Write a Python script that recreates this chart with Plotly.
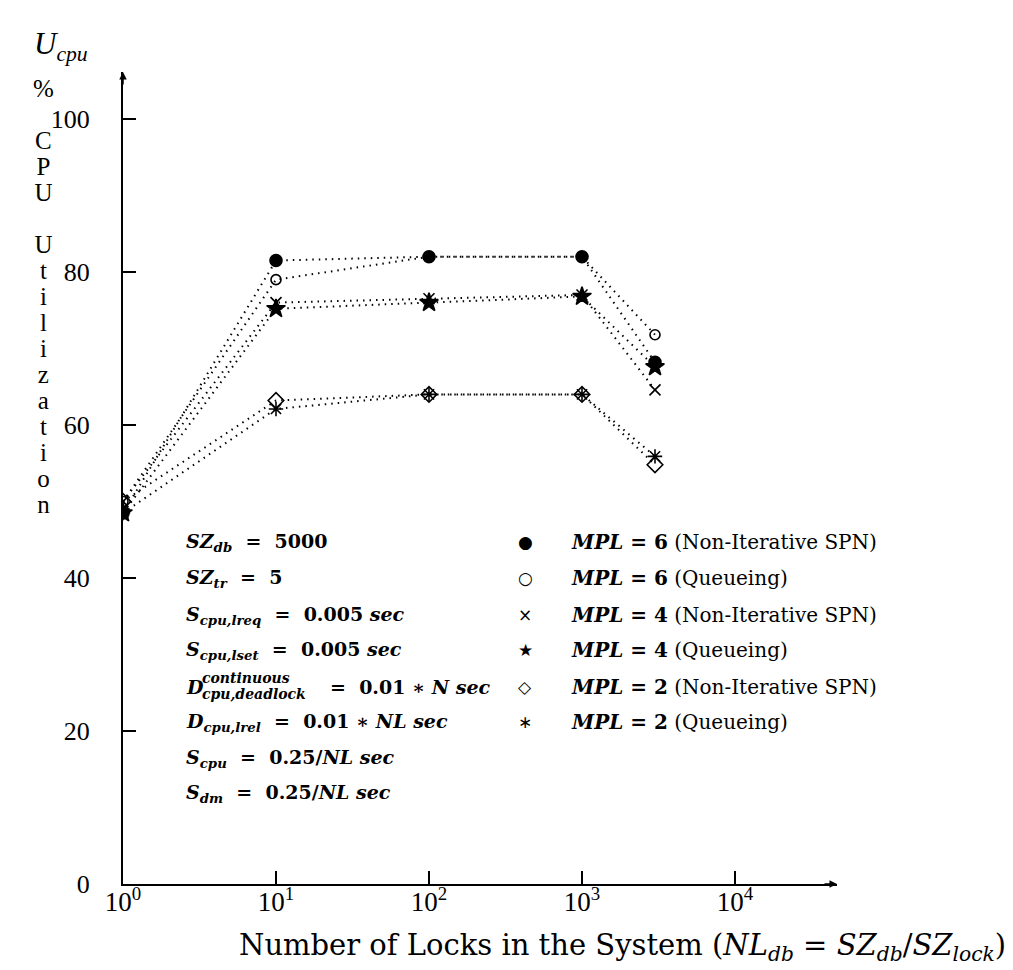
import plotly.graph_objects as go

# ---- data ----
nl_db = [1, 10, 100, 1000, 3000]
mpl6_nonit = [48.5, 81.5, 82.0, 82.0, 68.2]
mpl6_queue = [50.0, 79.0, 82.0, 82.0, 71.8]
mpl4_nonit = [50.0, 76.0, 76.5, 77.0, 64.6]
mpl4_queue = [48.5, 75.2, 76.0, 76.8, 67.6]
mpl2_nonit = [50.0, 63.2, 64.0, 64.0, 54.8]
mpl2_queue = [48.5, 62.1, 64.0, 64.0, 55.9]

series_names = ["MPL = 6 (Non-Iterative SPN)", "MPL = 6 (Queueing)",
                "MPL = 4 (Non-Iterative SPN)", "MPL = 4 (Queueing)",
                "MPL = 2 (Non-Iterative SPN)", "MPL = 2 (Queueing)"]
series_vals = [mpl6_nonit, mpl6_queue, mpl4_nonit, mpl4_queue, mpl2_nonit, mpl2_queue]
series_mpl = ["6", "6", "4", "4", "2", "2"]
series_kind = ["(Non-Iterative SPN)", "(Queueing)", "(Non-Iterative SPN)",
               "(Queueing)", "(Non-Iterative SPN)", "(Queueing)"]
symbols = ["circle", "circle-open", "x-thin-open", "star", "diamond-open", "asterisk-open"]
msizes = [12, 10, 11, 14, 12, 12]
legend_glyphs = ["●", "○", "×", "★", "◇", "∗"]

x_tickvals = [1, 10, 100, 1000, 10000]
x_ticktext = ["10<sup>0</sup>", "10<sup>1</sup>", "10<sup>2</sup>", "10<sup>3</sup>", "10<sup>4</sup>"]
y_tickvals = [0, 20, 40, 60, 80, 100]
y_title_lines = ["%", "", "C", "P", "U", "", "U", "t", "i", "l", "i", "z", "a", "t", "i", "o", "n"]

# ---- layout geometry (page pixels); the page body has an 8px margin ----
OFF = 8
L, R, T, B = 123, 837, 72, 884
PW, PH = R - L, B - T
W, H = 1013 - OFF, 970 - OFF


def px(x):
    return (x - L) / PW


def py(y):
    return (B - y) / PH


SERIF = "Liberation Serif"
WIDE = "DejaVu Serif"
fig = go.Figure()

for name, vals, sym, ms in zip(series_names, series_vals, symbols, msizes):
    fig.add_trace(go.Scatter(
        x=nl_db, y=vals, name=name, mode="lines+markers",
        line=dict(color="black", width=2, dash="1.5px,5px"),
        marker=dict(symbol=sym, size=ms, color="black",
                    line=dict(color="black", width=1.6)),
        showlegend=False,
    ))

anns = []


def ann(text, x, y, size=18, xanchor="left", yanchor="middle", family=SERIF, color="black"):
    anns.append(dict(text=text, x=px(x), y=py(y), xref="paper", yref="paper",
                     xanchor=xanchor, yanchor=yanchor, showarrow=False,
                     font=dict(family=family, size=size, color=color)))


# top-left axis symbol
ann("<i>U</i><sub><i>cpu</i></sub>", 32, 46, size=31)

# vertical y title, stacked letters (larger glyphs, tight line spacing)
big = ['<span style="font-size:25px">' + c + '</span>' if c else "" for c in y_title_lines]
ann("<br>".join(big), 43, 73, size=20, xanchor="center", yanchor="top", family=SERIF)

# x title
ann("Number of Locks in the System (<i>NL</i><sub><i>db</i></sub> = <i>SZ</i><sub><i>db</i></sub>/<i>SZ</i><sub><i>lock</i></sub>)",
    1008, 947, size=29, xanchor="right", family=WIDE)

# parameter block
pline = [542, 578, 615, 650, 687, 722, 758, 793]
px0 = 184
S = "&nbsp;"
PS = 19
ann("<b><i>SZ</i><sub><i>db</i></sub>" + S * 2 + "=" + S * 2 + "5000</b>", px0, pline[0], size=PS, family=WIDE)
ann("<b><i>SZ</i><sub><i>tr</i></sub>" + S * 2 + "=" + S * 2 + "5</b>", px0, pline[1], size=PS, family=WIDE)
ann("<b><i>S</i><sub><i>cpu,lreq</i></sub>" + S * 2 + "=" + S * 2 + "0.005 <i>sec</i></b>", px0, pline[2], size=PS, family=WIDE)
ann("<b><i>S</i><sub><i>cpu,lset</i></sub>" + S * 2 + "=" + S * 2 + "0.005 <i>sec</i></b>", px0, pline[3], size=PS, family=WIDE)
ann("<b><i>D</i></b>", px0, pline[4], size=PS, family=WIDE)
ann("<b><i>continuous</i></b>", px0 + 16, pline[4] - 9, size=14, family=WIDE)
ann("<b><i>cpu,deadlock</i></b>", px0 + 16, pline[4] + 7, size=14, family=WIDE)
ann("<b>=" + S * 2 + "0.01 ∗ <i>N</i> <i>sec</i></b>", 328, pline[4], size=PS, family=WIDE)
ann("<b><i>D</i><sub><i>cpu,lrel</i></sub>" + S * 2 + "=" + S * 2 + "0.01 ∗ <i>NL</i> <i>sec</i></b>", px0, pline[5], size=PS, family=WIDE)
ann("<b><i>S</i><sub><i>cpu</i></sub>" + S * 2 + "=" + S * 2 + "0.25/<i>NL</i> <i>sec</i></b>", px0, pline[6], size=PS, family=WIDE)
ann("<b><i>S</i><sub><i>dm</i></sub>" + S * 2 + "=" + S * 2 + "0.25/<i>NL</i> <i>sec</i></b>", px0, pline[7], size=PS, family=WIDE)

# legend block
for i, (g, m, k) in enumerate(zip(legend_glyphs, series_mpl, series_kind)):
    ann(g, 525, pline[i], size=17, xanchor="center", family="DejaVu Sans")
    ann("<b><i>MPL</i> = " + m + "</b> " + k, 569, pline[i], size=20, family=WIDE)

# axis arrows
anns.append(dict(x=1, y=0, xref="paper", yref="paper", ax=-14, ay=0, text="",
                 showarrow=True, arrowhead=2, arrowsize=1, arrowwidth=1.5, arrowcolor="black"))
anns.append(dict(x=0, y=1, xref="paper", yref="paper", ax=0, ay=14, text="",
                 showarrow=True, arrowhead=2, arrowsize=1, arrowwidth=1.5, arrowcolor="black"))

fig.update_layout(
    width=W, height=H,
    margin=dict(l=L - OFF, r=W - (R - OFF), t=T - OFF, b=H - (B - OFF), pad=0),
    paper_bgcolor="white", plot_bgcolor="white",
    annotations=anns,
    font=dict(family=SERIF, color="black"),
)
fig.update_xaxes(
    type="log", range=[0, (R - L) / 153.0],
    tickvals=x_tickvals, ticktext=x_ticktext,
    ticks="inside", ticklen=13, tickwidth=1.5, tickcolor="black",
    showline=True, linecolor="black", linewidth=2,
    showgrid=False, zeroline=False,
    tickfont=dict(family=SERIF, size=27, color="black"),
    ticklabelstandoff=-7,
)
fig.update_yaxes(
    range=[0, (B - T) / 7.65],
    tickvals=y_tickvals,
    ticks="inside", ticklen=13, tickwidth=1.5, tickcolor="black",
    showline=True, linecolor="black", linewidth=2,
    showgrid=False, zeroline=False,
    tickfont=dict(family=SERIF, size=26, color="black"),
    ticklabelstandoff=26,
)

fig.write_html("out.html")
